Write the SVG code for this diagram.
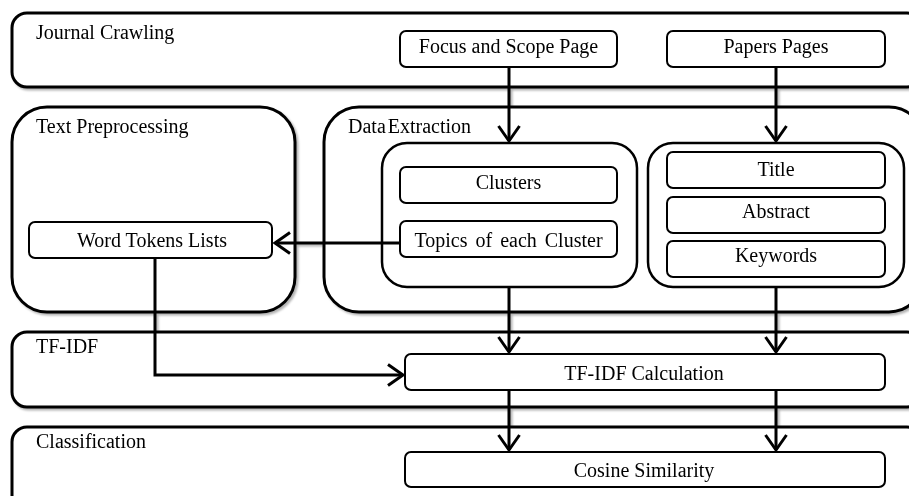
<svg xmlns="http://www.w3.org/2000/svg" width="909" height="496" viewBox="0 0 909 496">
  <defs>
    <marker id="chev" markerUnits="userSpaceOnUse" markerWidth="30" markerHeight="30" viewBox="-18 -15 22 30" refX="0" refY="0" orient="auto">
      <path d="M-15,-10.5 L0,0 L-15,10.5" fill="none" stroke="#000" stroke-width="3" stroke-linejoin="miter"/>
    </marker>
    <filter id="shade" x="-5%" y="-5%" width="110%" height="115%">
      <feDropShadow dx="2" dy="2" stdDeviation="1.2" flood-color="#000" flood-opacity="0.3"/>
    </filter>
  </defs>
  <style>
    .stage { fill: #fff; stroke: #000; stroke-width: 3; }
    .group { fill: #fff; stroke: #000; stroke-width: 2.5; }
    .box { fill: #fff; stroke: #000; stroke-width: 2; }
    .title { font-family: "Liberation Serif", "Times New Roman", serif; font-size: 20px; fill: #000; }
    .label { font-family: "Liberation Serif", "Times New Roman", serif; font-size: 20px; fill: #000; text-anchor: middle; }
    .conn { fill: none; stroke: #000; stroke-width: 3; }
  </style>
  <rect width="909" height="496" fill="#fff"/>

  <g filter="url(#shade)">
  <!-- stage containers -->
  <g id="journal-crawling">
    <rect class="stage" x="12" y="13" width="910" height="74" rx="15"/>
    <text class="title" x="36" y="39">Journal Crawling</text>
  </g>
  <g id="text-preprocessing">
    <rect class="stage" x="12" y="107" width="283" height="205" rx="35"/>
    <text class="title" x="36" y="133">Text Preprocessing</text>
  </g>
  <g id="data-extraction">
    <rect class="stage" x="324" y="107" width="600" height="205" rx="35"/>
    <text class="title" x="348" y="133" word-spacing="-3">Data Extraction</text>
  </g>
  <g id="tf-idf">
    <rect class="stage" x="12" y="332" width="910" height="75" rx="15"/>
    <text class="title" x="36" y="353">TF-IDF</text>
  </g>
  <g id="classification">
    <rect class="stage" x="12" y="427" width="910" height="100" rx="15"/>
    <text class="title" x="36" y="448">Classification</text>
  </g>

  <!-- extraction sub-groups -->
  <g id="cluster-group">
    <rect class="group" x="382" y="143" width="255" height="144" rx="25"/>
  </g>
  <g id="paper-group">
    <rect class="group" x="648" y="143" width="256" height="144" rx="25"/>
  </g>

  <!-- nodes -->
  <g id="focus-scope">
    <rect class="box" x="400" y="31" width="217" height="36" rx="6"/>
    <text class="label" x="508.5" y="53">Focus and Scope Page</text>
  </g>
  <g id="papers-pages">
    <rect class="box" x="667" y="31" width="218" height="36" rx="6"/>
    <text class="label" x="776" y="53">Papers Pages</text>
  </g>
  <g id="clusters">
    <rect class="box" x="400" y="167" width="217" height="36" rx="6"/>
    <text class="label" x="508.5" y="189">Clusters</text>
  </g>
  <g id="topics">
    <rect class="box" x="400" y="221" width="217" height="36" rx="6"/>
    <text class="label" x="508.5" y="247" word-spacing="3">Topics of each Cluster</text>
  </g>
  <g id="title">
    <rect class="box" x="667" y="152" width="218" height="36" rx="6"/>
    <text class="label" x="776" y="176">Title</text>
  </g>
  <g id="abstract">
    <rect class="box" x="667" y="197" width="218" height="36" rx="6"/>
    <text class="label" x="776" y="218">Abstract</text>
  </g>
  <g id="keywords">
    <rect class="box" x="667" y="241" width="218" height="36" rx="6"/>
    <text class="label" x="776" y="262">Keywords</text>
  </g>
  <g id="word-tokens">
    <rect class="box" x="29" y="222" width="243" height="36" rx="6"/>
    <text class="label" x="152" y="247">Word Tokens Lists</text>
  </g>
  <g id="tfidf-calc">
    <rect class="box" x="405" y="354" width="480" height="36" rx="6"/>
    <text class="label" x="644" y="380">TF-IDF Calculation</text>
  </g>
  <g id="cosine">
    <rect class="box" x="405" y="452" width="480" height="35" rx="6"/>
    <text class="label" x="644" y="477">Cosine Similarity</text>
  </g>

  <!-- connectors -->
  <g id="connectors">
    <path class="conn" d="M509,67 V141" marker-end="url(#chev)"/>
    <path class="conn" d="M776,67 V141" marker-end="url(#chev)"/>
    <path class="conn" d="M400,243 H275" marker-end="url(#chev)"/>
    <path class="conn" d="M155,258 V375 H403" marker-end="url(#chev)"/>
    <path class="conn" d="M509,287 V352" marker-end="url(#chev)"/>
    <path class="conn" d="M776,287 V352" marker-end="url(#chev)"/>
    <path class="conn" d="M509,390 V450" marker-end="url(#chev)"/>
    <path class="conn" d="M776,390 V450" marker-end="url(#chev)"/>
  </g>
  </g>
</svg>
